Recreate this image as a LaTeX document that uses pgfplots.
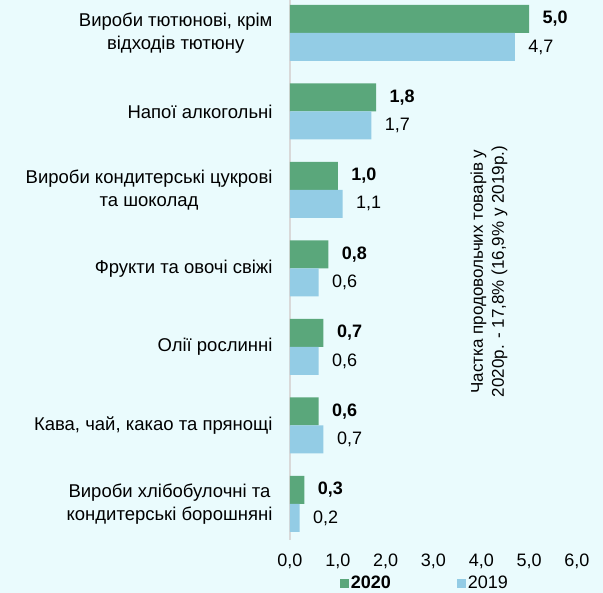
\documentclass[border=0pt]{standalone}
\usepackage{fontspec}
\setmainfont{Liberation Sans}
\usepackage{pgfplots}
\pgfplotsset{compat=1.18}
\definecolor{bg}{HTML}{EAFBFD}
\definecolor{green20}{HTML}{5AA77B}
\definecolor{blue19}{HTML}{93CCE5}
\definecolor{axisgray}{HTML}{D9D9D9}
\newcommand{\cf}{\fontsize{18.5}{22.5}\selectfont}
\newcommand{\nf}{\fontsize{18}{22}\selectfont}
\newcommand{\rf}{\fontsize{17}{21}\selectfont}

\begin{document}
\begin{tikzpicture}
\path[use as bounding box, fill=bg] (-290pt,-53pt) rectangle (313pt,540pt);
\begin{axis}[
    at={(0,0)}, anchor=south west,
    scale only axis, width=287pt, height=540pt,
    xbar, bar width=28pt,
    xmin=0, xmax=6, xtick={0,1,...,6},
    ymin=-0.42, ymax=6.46, y dir=reverse,
    ytick={0,...,6},
    yticklabels={
        {Вироби тютюнові, крім\\відходів тютюну},
        {Напої алкогольні},
        {Вироби кондитерські цукрові\\та шоколад},
        {Фрукти та овочі свіжі},
        {Олії рослинні},
        {Кава, чай, какао та прянощі},
        {Вироби хлібобулочні та\\кондитерські борошняні}},
    xticklabel={\pgfmathprintnumber[fixed,fixed zerofill,precision=1,use comma,assume math mode=true]{\tick}},
    xticklabel style={font=\nf, yshift=-10pt},
    yticklabel style={font=\cf, align=center, xshift=-14pt},
    major tick length=0pt,
    axis lines*=left,
    x axis line style={draw=none},
    y axis line style={axisgray, line width=1.3pt, -},
    point meta=x,
    legend style={at={(0.47,-0.08)}, anchor=center, legend columns=2,
        draw=none, fill=none, font=\nf,
        /tikz/every even column/.append style={column sep=64pt}},
    legend image code/.code={\fill[#1] (0pt,-4.5pt) rectangle (9pt,4.5pt);},
]
\addplot[fill=green20, draw=none, bar shift=14pt,
    nodes near coords,
    nodes near coords style={font=\nf\bfseries, anchor=west, xshift=10pt,
        /pgf/number format/.cd, fixed, fixed zerofill, precision=1, use comma, assume math mode=true}]
    coordinates {(5.0,0) (1.8,1) (1.0,2) (0.8,3) (0.7,4) (0.6,5) (0.3,6)};
\addlegendentry{\textbf{2020}}
\addplot[fill=blue19, draw=none, bar shift=-14pt,
    nodes near coords,
    nodes near coords style={font=\nf, anchor=west, xshift=10pt,
        /pgf/number format/.cd, fixed, fixed zerofill, precision=1, use comma, assume math mode=true}]
    coordinates {(4.7,0) (1.7,1) (1.1,2) (0.6,3) (0.6,4) (0.7,5) (0.2,6)};
\addlegendentry{2019}
\node[rotate=90, align=center, font=\rf] at (axis cs:4.16,3.04)
    {Частка продовольчих товарів у\\2020р. - 17,8\% (16,9\% у 2019р.)};
\end{axis}
\end{tikzpicture}
\end{document}
